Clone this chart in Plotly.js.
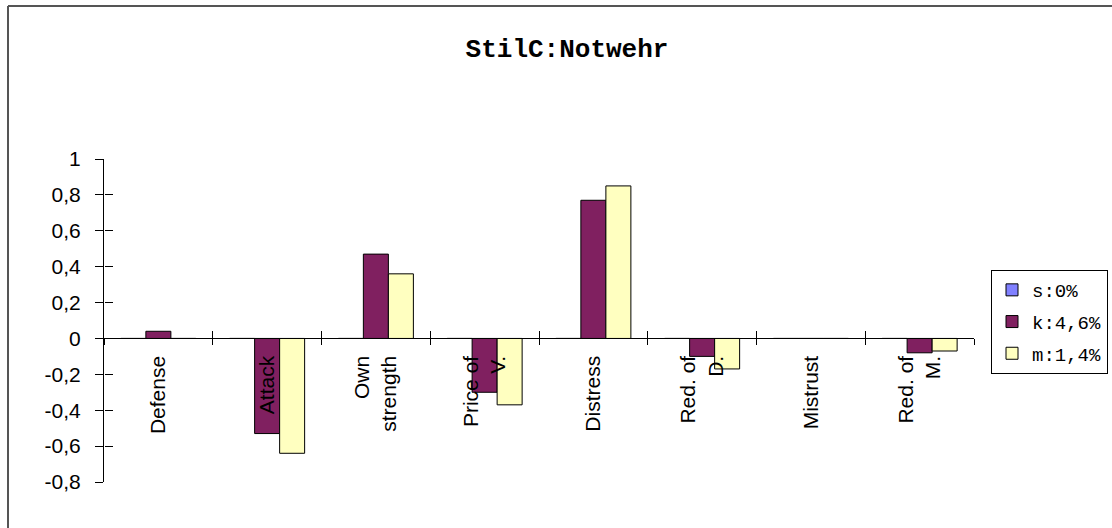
<!DOCTYPE html>
<html>
<head>
<meta charset="utf-8">
<script src="https://cdn.plot.ly/plotly-3.0.1.min.js"></script>
<style>html,body{margin:0;padding:0;background:#fff;}#chart{width:1112px;height:528px;}</style>
</head>
<body>
<div id="chart"></div>
<script>
const categories = ["Defense", "Attack", "Own<br>strength", "Price of<br>V.", "Distress", "Red. of<br>D.", "Mistrust", "Red. of<br>M."];
const sValues = [0, 0, 0, 0, 0, 0, 0, 0];
const kValues = [0.04, -0.53, 0.47, -0.30, 0.77, -0.10, 0, -0.08];
const mValues = [0, -0.64, 0.36, -0.37, 0.85, -0.17, 0, -0.07];
const seriesNames = ["s:0%", "k:4,6%", "m:1,4%"];
const yTickVals = [-0.8, -0.6, -0.4, -0.2, 0, 0.2, 0.4, 0.6, 0.8, 1];
const yTickText = ["-0,8", "-0,6", "-0,4", "-0,2", "0", "0,2", "0,4", "0,6", "0,8", "1"];
const titleText = "StilC:Notwehr";

const colors = ["#8080FF", "#802060", "#FFFFC0"];
const allValues = [sValues, kValues, mValues];

const traces = allValues.map((vals, i) => ({
  type: "bar",
  x: categories,
  y: vals,
  name: seriesNames[i],
  legendgroup: "g" + i,
  marker: { color: colors[i], line: { color: "#000", width: 1 } },
  hoverinfo: "skip"
}));
// helper trace (invisible markers) so the overlay axes carrying the inner tick halves are drawn
traces.push({
  type: "scatter", mode: "markers", x: categories, y: kValues,
  marker: { opacity: 0, size: 1 },
  xaxis: "x2", yaxis: "y2", showlegend: false, hoverinfo: "skip"
});

const yMin = -0.8, yMax = 1;
const zeroPos = (0 - yMin) / (yMax - yMin);
const xRange = [-0.5, categories.length - 0.5];
const axisFont = { family: "Liberation Sans, Arial, sans-serif", size: 21, color: "#000" };

const layout = {
  width: 1112, height: 528,
  margin: { l: 104, r: 138, t: 159, b: 46, pad: 0, autoexpand: false },
  paper_bgcolor: "#fff", plot_bgcolor: "rgba(0,0,0,0)",
  showlegend: true,
  bargap: 0.31, bargroupgap: 0,
  title: {
    text: titleText,
    font: { family: "Liberation Mono, Courier New, monospace", size: 26, color: "#000", weight: "bold" },
    x: 567 / 1112, xref: "container", xanchor: "center",
    y: 1 - 48 / 528, yref: "container", yanchor: "middle"
  },
  xaxis: {
    type: "category", range: xRange,
    anchor: "free", position: zeroPos,
    showline: true, linecolor: "#000", linewidth: 1,
    ticks: "outside", ticklen: 6, tickcolor: "#000", tickwidth: 1,
    tickson: "boundaries",
    tickangle: -90,
    tickfont: axisFont,
    ticklabelstandoff: 8,
    showgrid: false, zeroline: false, fixedrange: true
  },
  xaxis2: {
    type: "category", range: xRange, overlaying: "x",
    anchor: "free", position: zeroPos,
    showline: false,
    ticks: "inside", ticklen: 7, tickcolor: "#000", tickwidth: 1,
    tickson: "boundaries",
    showticklabels: false, showgrid: false, zeroline: false, fixedrange: true
  },
  yaxis: {
    range: [yMin, yMax],
    tickvals: yTickVals, ticktext: yTickText,
    showline: true, linecolor: "#000", linewidth: 1,
    ticks: "outside", ticklen: 8, tickcolor: "#000", tickwidth: 1,
    tickfont: axisFont,
    ticklabelstandoff: 10,
    showgrid: false, zeroline: true, zerolinecolor: "#000", zerolinewidth: 1,
    fixedrange: true
  },
  yaxis2: {
    range: [yMin, yMax], overlaying: "y", anchor: "free", position: 0, side: "left",
    tickvals: yTickVals,
    ticks: "inside", ticklen: 8, tickcolor: "#000", tickwidth: 1,
    showticklabels: false, showline: false, showgrid: false, zeroline: false, fixedrange: true
  },
  legend: {
    x: (991 - 104) / 870, xanchor: "left",
    y: 1 - (270 - 159) / 323, yanchor: "top",
    font: { family: "Liberation Mono, Courier New, monospace", size: 19, color: "#000" },
    bgcolor: "#fff", bordercolor: "#000", borderwidth: 1,
    tracegroupgap: 4, traceorder: "grouped"
  },
  shapes: [
    { type: "line", xref: "paper", yref: "paper",
      x0: (8 - 104) / 870, x1: (1112 - 104) / 870,
      y0: 1 + (159 - 6) / 323, y1: 1 + (159 - 6) / 323,
      line: { color: "#555", width: 2 } },
    { type: "line", xref: "paper", yref: "paper",
      x0: (8 - 104) / 870, x1: (8 - 104) / 870,
      y0: 1 + (159 - 6) / 323, y1: -(528 - 482 + 10) / 323,
      line: { color: "#555", width: 2 } }
  ]
};

Plotly.newPlot("chart", traces, layout, { displayModeBar: false, staticPlot: true });
</script>
</body>
</html>
